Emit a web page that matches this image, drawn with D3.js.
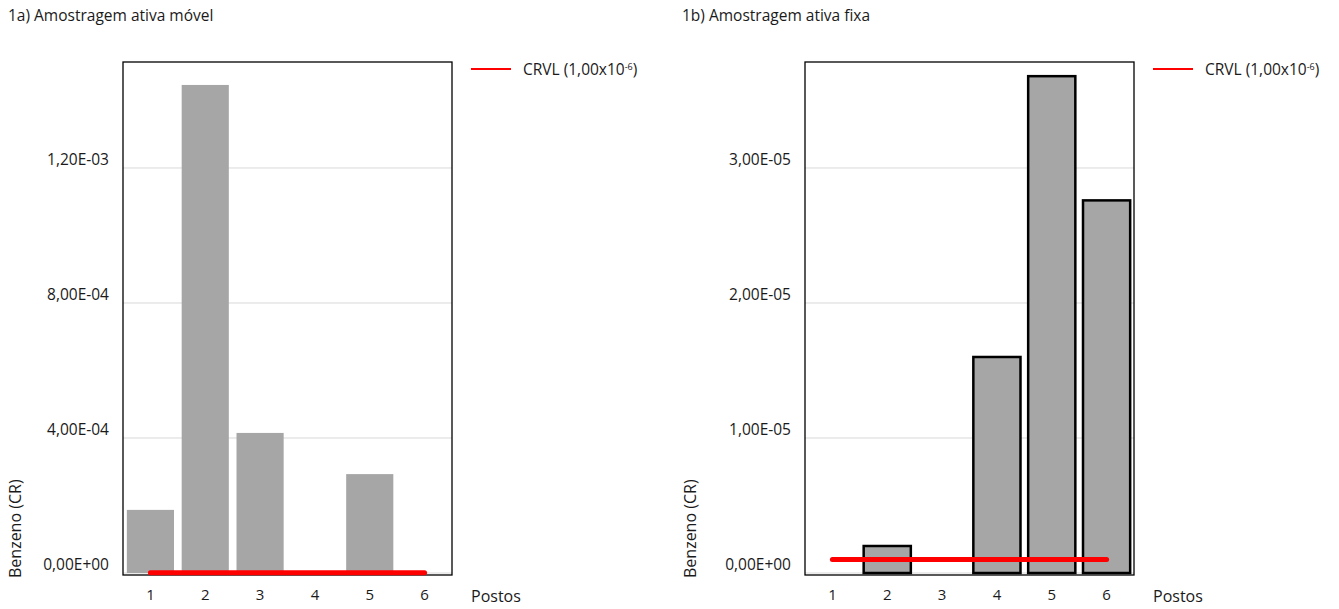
<!DOCTYPE html>
<html>
<head>
<meta charset="utf-8">
<script src="https://cdn.jsdelivr.net/npm/d3@7"></script>
<style>
  body { margin: 0; background: #fff; }
  svg text { font-family: "Open Sans", sans-serif; fill: #1a1a1a; }
</style>
</head>
<body>
<svg id="chart" width="1339" height="609"></svg>
<script>
const postos = ["1", "2", "3", "4", "5", "6"];

// 1a) amostragem ativa movel
const movelValues = [1.87e-4, 1.446e-3, 4.15e-4, 0, 2.93e-4, 0];
const movelTicks = [0, 4e-4, 8e-4, 1.2e-3];
const movelTickLabels = ["0,00E+00", "4,00E-04", "8,00E-04", "1,20E-03"];

// 1b) amostragem ativa fixa
const fixaValues = [0, 2.0e-6, 0, 1.6e-5, 3.68e-5, 2.76e-5];
const fixaTicks = [0, 1e-5, 2e-5, 3e-5];
const fixaTickLabels = ["0,00E+00", "1,00E-05", "2,00E-05", "3,00E-05"];

const crvl = 1e-6;

const svg = d3.select("#chart");

function drawPanel(opt) {
  const g = svg.append("g").attr("transform", `translate(${opt.left}, 0)`);
  const width = 329, top = 62, zero = 573, boxBottom = 575;

  const x = d3.scaleBand().domain(postos).range([0, width])
    .paddingInner(0.14).paddingOuter(0.07);
  const y = d3.scaleLinear().domain([0, opt.max]).range([zero, top]);

  g.append("text")
    .attr("x", opt.titleX - opt.left).attr("y", 21)
    .style("font-size", "15.5px")
    .text(opt.title);

  // gridlines
  g.selectAll(".grid")
    .data(opt.ticks)
    .enter().append("line")
    .attr("x1", 0).attr("x2", width)
    .attr("y1", d => y(d)).attr("y2", d => y(d))
    .attr("stroke", "#d9d9d9").attr("stroke-width", 1);

  const yAxis = d3.axisLeft(y)
    .tickValues(opt.ticks)
    .tickFormat((d, i) => opt.tickLabels[i])
    .tickSize(0).tickPadding(14);
  const ya = g.append("g").call(yAxis);
  ya.select(".domain").remove();
  ya.selectAll("text").style("font-size", "15.5px").attr("dy", "-0.25em").style("font-family", "'Open Sans', sans-serif").attr("fill", "#1a1a1a");

  g.selectAll(".bar")
    .data(opt.values)
    .enter().append("rect")
    .attr("x", (d, i) => x(postos[i]))
    .attr("y", d => y(d))
    .attr("width", x.bandwidth())
    .attr("height", d => zero - y(d))
    .attr("fill", "#a6a6a6")
    .attr("stroke", opt.barStroke ? "#000" : "none")
    .attr("stroke-width", 2.5)
    .style("display", d => d > 0 ? null : "none");

  // box
  g.append("rect")
    .attr("x", 0).attr("y", top)
    .attr("width", width).attr("height", boxBottom - top)
    .attr("fill", "none").attr("stroke", "#000").attr("stroke-width", 1.3);

  // CRVL line
  g.append("line")
    .attr("x1", x(postos[0]) + x.bandwidth() / 2)
    .attr("x2", x(postos[postos.length - 1]) + x.bandwidth() / 2)
    .attr("y1", y(crvl)).attr("y2", y(crvl))
    .attr("stroke", "#ff0000").attr("stroke-width", 5)
    .attr("stroke-linecap", "round");

  const xAxis = d3.axisBottom(x).tickSize(0).tickPadding(14);
  const xa = g.append("g").attr("transform", `translate(0, ${boxBottom})`).call(xAxis);
  xa.select(".domain").remove();
  xa.selectAll("text").style("font-size", "15px").style("font-family", "'Open Sans', sans-serif").attr("fill", "#1a1a1a");

  g.append("text")
    .attr("x", width + 19).attr("y", 602)
    .style("font-size", "16px")
    .text("Postos");

  g.append("text")
    .attr("transform", `translate(${opt.yLabelX - opt.left}, 578) rotate(-90)`)
    .style("font-size", "16px")
    .text("Benzeno (CR)");

  // legend
  g.append("line")
    .attr("x1", width + 19).attr("x2", width + 59)
    .attr("y1", 69).attr("y2", 69)
    .attr("stroke", "#ff0000").attr("stroke-width", 2);
  const lt = g.append("text")
    .attr("x", width + 71).attr("y", 75)
    .style("font-size", "15.5px");
  lt.append("tspan").text("CRVL (1,00x10");
  lt.append("tspan").attr("dy", -5).style("font-size", "9px").text("-6");
  lt.append("tspan").attr("dy", 5).text(")");
}

drawPanel({
  left: 123, titleX: 8, yLabelX: 21,
  title: "1a) Amostragem ativa móvel",
  values: movelValues, ticks: movelTicks, tickLabels: movelTickLabels,
  max: 1.514e-3, barStroke: false
});

drawPanel({
  left: 805, titleX: 682, yLabelX: 696,
  title: "1b) Amostragem ativa fixa",
  values: fixaValues, ticks: fixaTicks, tickLabels: fixaTickLabels,
  max: 3.785e-5, barStroke: true
});
</script>
</body>
</html>
